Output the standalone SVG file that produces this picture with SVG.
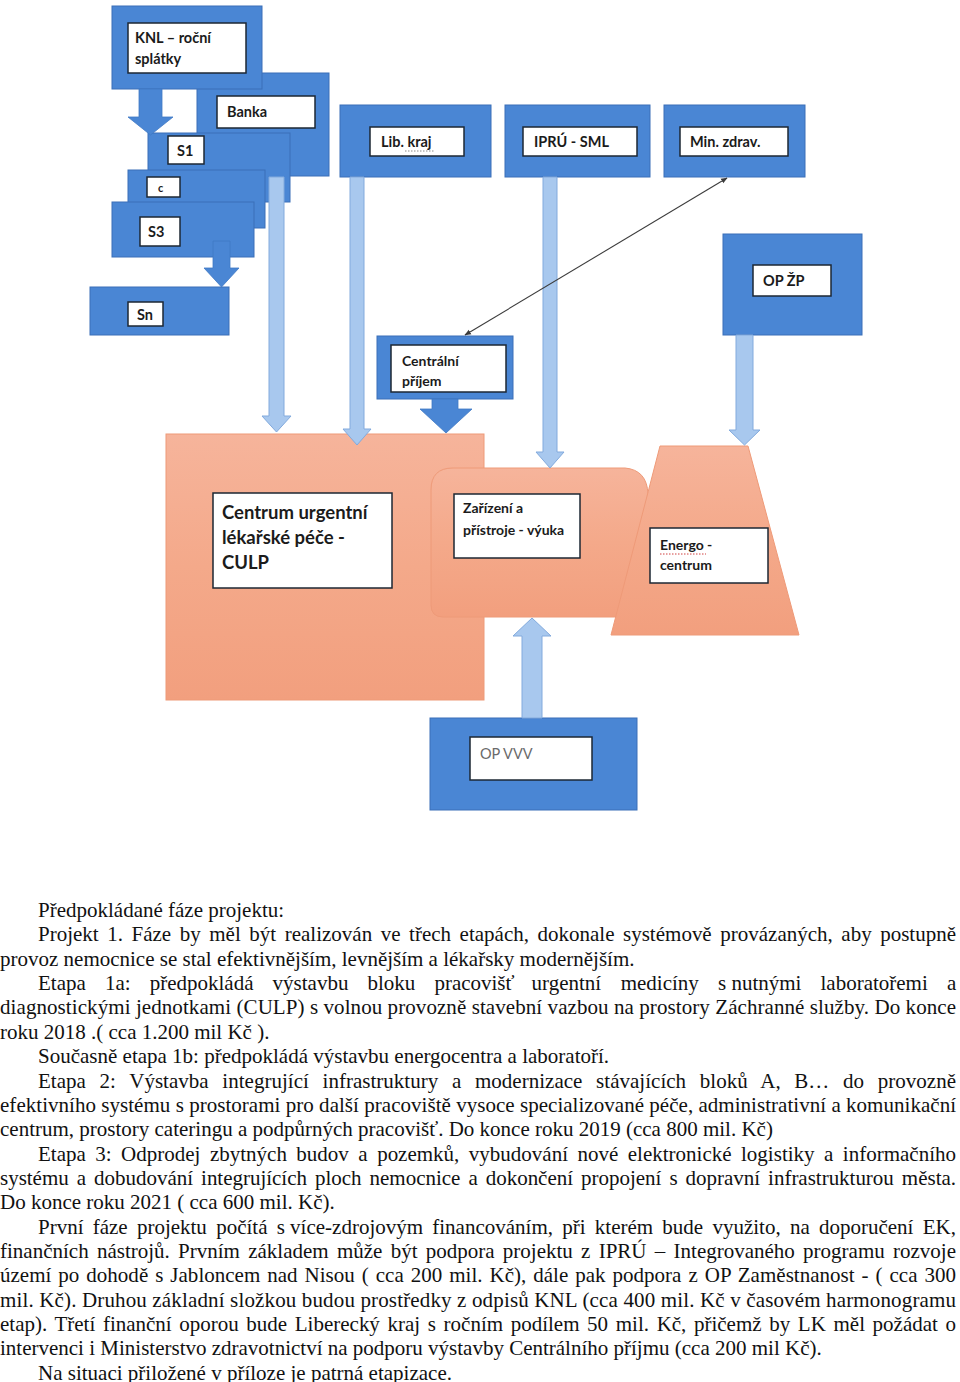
<svg xmlns="http://www.w3.org/2000/svg" width="960" height="1382" viewBox="0 0 960 1382">
<defs>
<linearGradient id="sal" x1="0" y1="0" x2="0" y2="1">
<stop offset="0" stop-color="#F6B49B"/><stop offset="0.5" stop-color="#F4A98A"/><stop offset="1" stop-color="#F29F7E"/>
</linearGradient>
<marker id="ah" viewBox="0 0 10 10" refX="9" refY="5" markerWidth="6" markerHeight="6" orient="auto-start-reverse">
<path d="M0,1 L10,5 L0,9 z" fill="#3c3c3c"/>
</marker>
<style>
.blue{fill:#4A86D4;stroke:#3A6FB8;stroke-width:1}
.lbl{fill:#ffffff;stroke:#1d2733;stroke-width:1.5}
.lb{fill:#A8C8EE;stroke:#82AADD;stroke-width:1}
.da{fill:#4A86D4;stroke:#3F78C4;stroke-width:0.8}
.sal{fill:url(#sal);stroke:#EE9A78;stroke-width:1}
.t{font-family:Lato,"Open Sans","Liberation Sans",sans-serif;font-weight:700;font-size:14.5px;fill:#1b1b1b}
.big{font-size:18.5px}
.sm{font-size:14px}
.p{font-family:"Liberation Serif","Times New Roman",serif;font-size:21px;fill:#111}
</style>
</defs>
<rect width="960" height="1382" fill="#ffffff"/>

<g id="banka"><rect class="blue" x="197" y="73" width="132" height="103"/><rect class="lbl" x="217" y="96" width="98" height="32"/><text class="t" x="227" y="117">Banka</text></g>
<g id="knl"><rect class="blue" x="112" y="6" width="150" height="83"/><rect class="lbl" x="128" y="23" width="118" height="50"/><text class="t" x="135" y="43">KNL – roční</text><text class="t" x="135" y="64">splátky</text></g>
<g id="s1"><rect class="blue" x="148" y="133" width="142" height="69"/><rect class="lbl" x="168" y="136" width="36" height="28"/><text class="t" x="177" y="156">S1</text></g>
<g id="c"><rect class="blue" x="128" y="170" width="137" height="58"/><rect class="lbl" x="147" y="177" width="33" height="20"/><text class="t" x="158" y="192" style="font-size:11px">c</text></g>
<g id="s3"><rect class="blue" x="112" y="202" width="142" height="55"/><rect class="lbl" x="140" y="217" width="40" height="29"/><text class="t" x="148" y="237">S3</text></g>
<g id="sn"><rect class="blue" x="90" y="287" width="139" height="48"/><rect class="lbl" x="128" y="302" width="35" height="24"/><text class="t" x="137" y="320">Sn</text></g>

<g id="libkraj"><rect class="blue" x="340" y="105" width="151" height="72"/><rect class="lbl" x="370" y="127" width="94" height="29"/><text class="t" x="381" y="147">Lib. kraj</text><line x1="405" y1="151" x2="434" y2="151" stroke="#8a8a8a" stroke-width="1" stroke-dasharray="1.5,1.5"/></g>
<g id="ipru"><rect class="blue" x="505" y="105" width="145" height="72"/><rect class="lbl" x="523" y="127" width="114" height="29"/><text class="t" x="534" y="147">IPRÚ - SML</text></g>
<g id="minzdrav"><rect class="blue" x="664" y="105" width="141" height="72"/><rect class="lbl" x="680" y="127" width="108" height="29"/><text class="t" x="690" y="147">Min. zdrav.</text></g>
<g id="opzp"><rect class="blue" x="723" y="234" width="139" height="101"/><rect class="lbl" x="753" y="265" width="78" height="31"/><text class="t" x="763" y="286">OP ŽP</text></g>
<g id="centralni"><rect class="blue" x="377" y="336" width="136" height="63"/><rect class="lbl" x="391" y="345" width="115" height="47"/><text class="t sm" x="402" y="366">Centrální</text><text class="t sm" x="402" y="386">příjem</text></g>

<g id="culp"><rect class="sal" x="166" y="434" width="318" height="266"/><rect class="lbl" x="213" y="493" width="179" height="95"/><text class="t big" x="222" y="519">Centrum urgentní</text><text class="t big" x="222" y="544">lékařské péče -</text><text class="t big" x="222" y="569">CULP</text></g>
<g id="zarizeni"><path class="sal" d="M431,490 Q431,468 453,468 L625,468 Q647,470 648,494 L648,617 L443,617 Q431,617 431,605 Z"/><rect class="lbl" x="454" y="494" width="126" height="64"/><text class="t sm" x="463" y="513">Zařízení a</text><text class="t sm" x="463" y="535">přístroje - výuka</text></g>
<g id="energo"><path class="sal" d="M660,446 L748,446 L799,635 L611,635 Z"/><rect class="lbl" x="650" y="528" width="118" height="55"/><text class="t sm" x="660" y="550">Energo -</text><text class="t sm" x="660" y="570">centrum</text><line x1="660" y1="554" x2="706" y2="554" stroke="#d04040" stroke-width="1" stroke-dasharray="1.5,1.5"/></g>
<g id="opvvv"><rect class="blue" x="430" y="718" width="207" height="92"/><rect class="lbl" x="470" y="737" width="122" height="43"/><text class="t" x="480" y="759" style="font-weight:400;font-size:14.5px;fill:#6a6a6a">OP VVV</text></g>

<g id="connectors">
<path class="da" d="M139,89 L162,89 L162,117 L173,117 L150.5,135 L128,117 L139,117 Z"/>
<path class="da" d="M213,241 L230,241 L230,268 L239,268 L221.5,287 L204,268 L213,268 Z"/>
<path class="lb" d="M269,177 L284,177 L284,416 L291,416 L276.5,432 L262,416 L269,416 Z"/>
<path class="lb" d="M350,177 L364,177 L364,429 L371,429 L357,445 L343,429 L350,429 Z"/>
<path class="lb" d="M543,177 L557,177 L557,452 L564,452 L550,468 L536,452 L543,452 Z"/>
<path class="lb" d="M736,335 L753,335 L753,430 L760,430 L744.5,445 L729,430 L736,430 Z"/>
<path class="lb" d="M522,718 L542,718 L542,636 L551,636 L532,618 L513,636 L522,636 Z"/>
<path class="da" d="M432,399 L458,399 L458,409 L472,409 L446,433 L420,409 L432,409 Z"/>
<line x1="727" y1="178" x2="465" y2="335" stroke="#3c3c3c" stroke-width="1.1" marker-start="url(#ah)" marker-end="url(#ah)"/>
</g>

<g id="text">
<text class="p" x="38" y="917">Předpokládané fáze projektu:</text>
<text class="p" x="38" y="941.4" word-spacing="3.29" textLength="918" lengthAdjust="spacing">Projekt 1. Fáze by měl být realizován ve třech etapách, dokonale systémově provázaných, aby postupně</text>
<text class="p" x="0" y="965.7">provoz nemocnice se stal efektivnějším, levnějším a lékařsky modernějším.</text>
<text class="p" y="990"><tspan x="38">Etapa</tspan><tspan x="104.9">1a:</tspan><tspan x="149.7">předpokládá</tspan><tspan x="272.6">výstavbu</tspan><tspan x="367.5">bloku</tspan><tspan x="434.4">pracovišť</tspan><tspan x="531.6">urgentní</tspan><tspan x="620.7">medicíny</tspan><tspan x="718">s&#160;nutnými</tspan><tspan x="820.5">laboratořemi</tspan><tspan x="946.9">a</tspan></text>
<text class="p" x="0" y="1014.4" textLength="956" lengthAdjust="spacing">diagnostickými jednotkami (CULP) s volnou provozně stavební vazbou na prostory Záchranné služby. Do konce</text>
<text class="p" x="0" y="1038.8">roku 2018 .( cca 1.200 mil Kč ).</text>
<text class="p" x="38" y="1063">Současně etapa 1b: předpokládá výstavbu energocentra a laboratoří.</text>
<text class="p" x="38" y="1087.5" word-spacing="8.41" textLength="918" lengthAdjust="spacing">Etapa 2: Výstavba integrující infrastruktury a modernizace stávajících bloků A, B… do provozně</text>
<text class="p" x="0" y="1111.8" textLength="956" lengthAdjust="spacing">efektivního systému s prostorami pro další pracoviště vysoce specializované péče, administrativní a komunikační</text>
<text class="p" x="0" y="1136">centrum, prostory cateringu a podpůrných pracovišť. Do konce roku 2019 (cca 800 mil. Kč)</text>
<text class="p" x="38" y="1160.5" word-spacing="4.23" textLength="918" lengthAdjust="spacing">Etapa 3: Odprodej zbytných budov a pozemků, vybudování nové elektronické logistiky a informačního</text>
<text class="p" x="0" y="1185" word-spacing="2.8" textLength="956" lengthAdjust="spacing">systému a dobudování integrujících ploch nemocnice a dokončení propojení s dopravní infrastrukturou města.</text>
<text class="p" x="0" y="1209">Do konce roku 2021 ( cca 600 mil. Kč).</text>
<text class="p" y="1233.5"><tspan x="38">První</tspan><tspan x="92.7">fáze</tspan><tspan x="136.9">projektu</tspan><tspan x="216.2">počítá</tspan><tspan x="276.7">s&#160;více-zdrojovým</tspan><tspan x="432.3">financováním,</tspan><tspan x="562.3">při</tspan><tspan x="594.8">kterém</tspan><tspan x="662.3">bude</tspan><tspan x="712.4">využito,</tspan><tspan x="789.9">na</tspan><tspan x="818.9">doporučení</tspan><tspan x="922.7">EK,</tspan></text>
<text class="p" x="0" y="1258" word-spacing="3.0" textLength="956" lengthAdjust="spacing">finančních nástrojů. Prvním základem může být podpora projektu z IPRÚ – Integrovaného programu rozvoje</text>
<text class="p" x="0" y="1282" word-spacing="1.7" textLength="956" lengthAdjust="spacing">území po dohodě s Jabloncem nad Nisou ( cca 200 mil. Kč), dále pak podpora z OP Zaměstnanost - ( cca 300</text>
<text class="p" x="0" y="1306.5" textLength="956" lengthAdjust="spacing">mil. Kč). Druhou základní složkou budou prostředky z odpisů KNL (cca 400 mil. Kč v časovém harmonogramu</text>
<text class="p" x="0" y="1331" word-spacing="2.4" textLength="956" lengthAdjust="spacing">etap). Třetí finanční oporou bude Liberecký kraj s ročním podílem 50 mil. Kč, přičemž by LK měl požádat o</text>
<text class="p" x="0" y="1355">intervenci i Ministerstvo zdravotnictví na podporu výstavby Centrálního příjmu (cca 200 mil Kč).</text>
<text class="p" x="38" y="1379.5">Na situaci přiložené v příloze je patrná etapizace.</text>
</g>
</svg>
